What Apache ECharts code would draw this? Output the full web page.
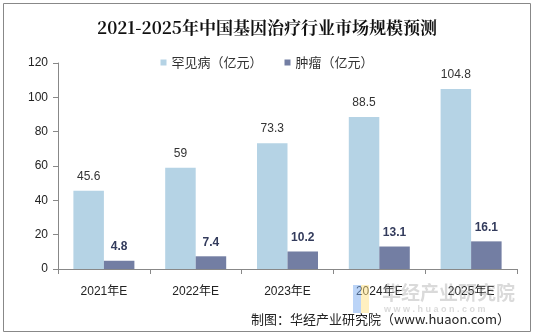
<!DOCTYPE html>
<html><head><meta charset="utf-8">
<script src="https://cdn.jsdelivr.net/npm/echarts@6/dist/echarts.min.js"></script>
<style>html,body{margin:0;padding:0;background:#fff}#c{width:534px;height:336px}</style>
</head><body><div id="c"></div>
<script>
const categories = ['2021年E','2022年E','2023年E','2024年E','2025年E'];
const rareDisease = [45.6, 59, 73.3, 88.5, 104.8];
const tumor = [4.8, 7.4, 10.2, 13.1, 16.1];
const yTicks = [0, 20, 40, 60, 80, 100, 120];

const chart = echarts.init(document.getElementById('c'));
chart.setOption({
  backgroundColor: '#fff',
  animation: false,
  title: {
    text: '2021-2025年中国基因治疗行业市场规模预测',
    left: 'center', top: 14,
    textStyle: { fontFamily: 'Noto Serif CJK SC, serif', fontWeight: 'bold', fontSize: 17, color: '#111' }
  },
  legend: {
    top: 51, left: 'center',
    itemWidth: 6, itemHeight: 6, itemGap: 22,
    icon: 'rect',
    textStyle: { fontSize: 13, color: '#333', fontFamily: 'Noto Sans CJK SC' },
    data: ['罕见病（亿元）', '肿瘤（亿元）']
  },
  grid: { left: 58, right: 17, top: 63, bottom: 67, containLabel: false },
  xAxis: {
    type: 'category', data: categories,
    axisLine: { lineStyle: { color: '#888' } },
    axisTick: { show: true, alignWithLabel: false, length: 5, lineStyle: { color: '#888' } },
    axisLabel: { fontSize: 12, color: '#222', margin: 17, fontFamily: 'Liberation Sans, Noto Sans CJK SC' }
  },
  yAxis: {
    type: 'value', min: 0, max: 120, interval: 20,
    axisLine: { show: true, lineStyle: { color: '#888' } },
    axisTick: { show: true, length: 5, lineStyle: { color: '#888' } },
    splitLine: { show: false },
    axisLabel: { fontSize: 12, color: '#222', margin: 10, fontFamily: 'Liberation Sans',
      formatter: v => yTicks.includes(v) ? String(v) : '' }
  },
  series: [
    { name: '罕见病（亿元）', type: 'bar', data: rareDisease, barWidth: 30.5, barGap: '0%',
      itemStyle: { color: '#B5D3E5' },
      label: { show: true, position: 'top', distance: 8, fontSize: 12, color: '#333', fontFamily: 'Liberation Sans' } },
    { name: '肿瘤（亿元）', type: 'bar', data: tumor, barWidth: 30.5,
      itemStyle: { color: '#737EA3' },
      label: { show: true, position: 'top', distance: 8, fontSize: 12, fontWeight: 'bold', color: '#333B5C', fontFamily: 'Liberation Sans' } }
  ],
  graphic: [
    { type: 'rect', shape: { x: 3.5, y: 3.5, width: 527, height: 328 }, style: { fill: 'none', stroke: '#888', lineWidth: 1 }, z: 100 },
    { type: 'text', right: 24, top: 313, style: { text: '制图：华经产业研究院（www.huaon.com）', fontSize: 13, fill: '#222', fontFamily: 'Noto Sans CJK SC' } },
    { type: 'text', left: 382, top: 283, style: { text: '华经产业研究院', fontSize: 19, fill: 'rgba(150,150,150,0.35)', fontFamily: 'Noto Sans CJK SC', fontWeight: 'bold' }, z: 50 },
    { type: 'text', left: 384, top: 305, style: { text: 'w w w . h u a o n . c o m', fontSize: 9, fill: 'rgba(150,150,150,0.35)', fontFamily: 'Liberation Sans', fontWeight: 'bold' }, z: 50 },
    { type: 'rect', shape: { x: 353, y: 285, width: 8, height: 28 }, style: { fill: 'rgba(120,170,240,0.5)' }, z: 50 },
    { type: 'rect', shape: { x: 361, y: 285, width: 8, height: 28 }, style: { fill: 'rgba(255,225,130,0.5)' }, z: 50 }
  ]
});
</script></body></html>
